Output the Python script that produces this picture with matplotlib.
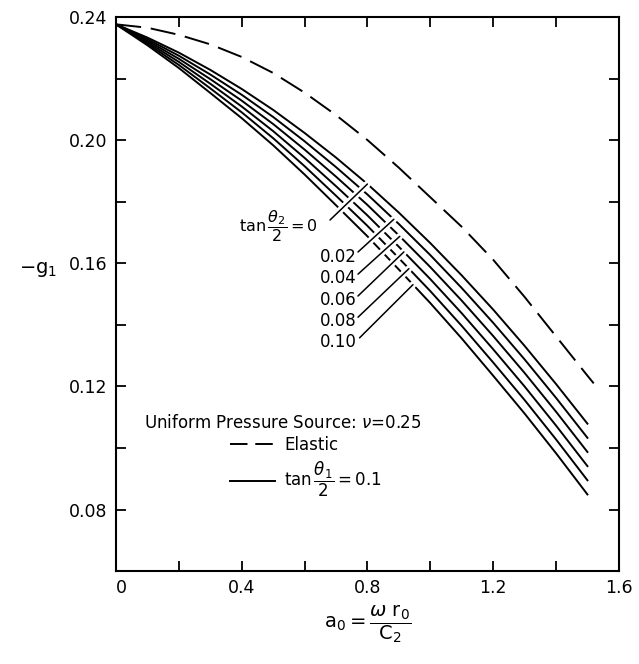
import numpy as np
import matplotlib
matplotlib.use('Agg')
import matplotlib.pyplot as plt
import matplotlib.patheffects as pe
from matplotlib.lines import Line2D

plt.rcParams['font.family'] = ['DejaVu Sans']
plt.rcParams['mathtext.fontset'] = 'dejavusans'

# ---- data ----
a0 = [0.0, 0.1, 0.2, 0.3, 0.4, 0.5, 0.6, 0.7, 0.8, 0.9, 1.0, 1.1, 1.2, 1.3, 1.4, 1.5]

g_tan0_00 = [0.2377, 0.2334, 0.2285, 0.2229, 0.2167, 0.2099, 0.2024, 0.1944, 0.1858,
             0.1765, 0.1666, 0.1561, 0.1450, 0.1332, 0.1208, 0.1079]
g_tan0_02 = [0.2377, 0.2329, 0.2275, 0.2214, 0.2148, 0.2076, 0.1997, 0.1913, 0.1824,
             0.1728, 0.1627, 0.1520, 0.1407, 0.1288, 0.1163, 0.1033]
g_tan0_04 = [0.2377, 0.2324, 0.2265, 0.2199, 0.2129, 0.2053, 0.1970, 0.1882, 0.1790,
             0.1691, 0.1588, 0.1479, 0.1364, 0.1244, 0.1118, 0.0987]
g_tan0_06 = [0.2377, 0.2319, 0.2255, 0.2184, 0.2110, 0.2030, 0.1943, 0.1851, 0.1756,
             0.1654, 0.1549, 0.1438, 0.1321, 0.1200, 0.1073, 0.0941]
g_tan0_08 = [0.2377, 0.2314, 0.2245, 0.2169, 0.2091, 0.2007, 0.1916, 0.1820, 0.1722,
             0.1617, 0.1510, 0.1397, 0.1278, 0.1156, 0.1028, 0.0895]
g_tan0_10 = [0.2377, 0.2309, 0.2235, 0.2154, 0.2072, 0.1984, 0.1889, 0.1789, 0.1688,
             0.1580, 0.1471, 0.1356, 0.1235, 0.1112, 0.0983, 0.0849]

a0_elastic = [0.0, 0.1, 0.2, 0.3, 0.4, 0.5, 0.6, 0.7, 0.8, 0.9, 1.0, 1.1, 1.2, 1.3, 1.4, 1.5, 1.52]
g_elastic = [0.2377, 0.2366, 0.2343, 0.2312, 0.2271, 0.2219, 0.2155, 0.2082, 0.2001,
             0.1911, 0.1815, 0.1719, 0.1612, 0.1491, 0.1363, 0.1235, 0.1210]

tan2_labels = ['0', '0.02', '0.04', '0.06', '0.08', '0.10']
leader_a0 = [0.800, 0.884, 0.903, 0.916, 0.932, 0.945]

x_ticks = [0.0, 0.4, 0.8, 1.2, 1.6]
x_tick_labels = ['0', '0.4', '0.8', '1.2', '1.6']
y_ticks = [0.08, 0.12, 0.16, 0.20, 0.24]
y_tick_labels = ['0.08', '0.12', '0.16', '0.20', '0.24']

curves = [g_tan0_00, g_tan0_02, g_tan0_04, g_tan0_06, g_tan0_08, g_tan0_10]

# ---- figure ----
fig = plt.figure(figsize=(6.39, 6.64), dpi=100)
ax = fig.add_axes([0.1815, 0.140, 0.787, 0.834])

LW = 1.4
ax.plot(a0_elastic, g_elastic, color='black', lw=LW, dashes=(13, 5), zorder=2)
for g in curves:
    ax.plot(a0, g, color='black', lw=LW, zorder=2)

ax.set_xlim(0, 1.6)
ax.set_ylim(0.06, 0.24)
ax.set_xticks(x_ticks)
ax.set_xticklabels(x_tick_labels)
ax.set_xticks(np.arange(0.2, 1.6, 0.4), minor=True)
ax.set_yticks(y_ticks)
ax.set_yticklabels(y_tick_labels)
ax.set_yticks(np.arange(0.10, 0.24, 0.04), minor=True)
ax.tick_params(which='both', direction='in', length=7, width=1.3,
               top=True, right=True, labelsize=12.5)
ax.tick_params(axis='x', pad=6)
ax.tick_params(axis='y', pad=6)
xl = ax.get_xticklabels()
xl[0].set_ha('left')
for s in ax.spines.values():
    s.set_linewidth(1.5)

# axis labels
ax.set_xlabel(r'$\mathrm{a_0} = \dfrac{\omega\ \mathrm{r_0}}{\mathrm{C_2}}$', fontsize=14, labelpad=4)
ax.set_ylabel(r'$-\mathrm{g}_1$', fontsize=14, rotation=0, ha='center', va='center')
ax.yaxis.set_label_coords(-0.155, 0.545)

# leader labels for tan(theta2/2)
white = [pe.withStroke(linewidth=5, foreground='white')]
ax.text(0.642, 0.1721, r'$\mathrm{tan}\,\dfrac{\theta_2}{2}=0$', fontsize=11.5,
        ha='right', va='center')
label_y = [None, 0.1621, 0.1553, 0.1481, 0.1413, 0.1345]
start_pts = [(0.681, 0.1741), (0.770, 0.1637), (0.770, 0.1565), (0.770, 0.1494),
             (0.770, 0.1425), (0.775, 0.1358)]
for i, (lab, xa, g) in enumerate(zip(tan2_labels, leader_a0, curves)):
    ya = float(np.interp(xa, a0, g))
    ax.annotate('', xy=(xa, ya), xytext=start_pts[i],
                arrowprops=dict(arrowstyle='-', color='black', lw=1.1,
                                shrinkA=0, shrinkB=0, path_effects=white),
                zorder=3)
    if i > 0:
        ax.text(0.766, label_y[i], lab, fontsize=12, ha='right', va='center')

# legend block
ax.text(0.332, 0.267, r'Uniform Pressure Source: $\nu$=0.25', fontsize=12,
        ha='center', va='center', transform=ax.transAxes)
h_el = Line2D([], [], color='black', lw=LW, dashes=(9, 4))
h_vs = Line2D([], [], color='black', lw=LW)
leg = ax.legend([h_el, h_vs], ['Elastic', r'$\mathrm{tan}\,\dfrac{\theta_1}{2}=0.1$'],
                loc='upper left', bbox_to_anchor=(0.2266, 0.2437), frameon=False,
                fontsize=12, handlelength=2.7, borderaxespad=0,
                labelspacing=0.35, handletextpad=0.55, borderpad=0)

fig.savefig('out.png', dpi=100)
